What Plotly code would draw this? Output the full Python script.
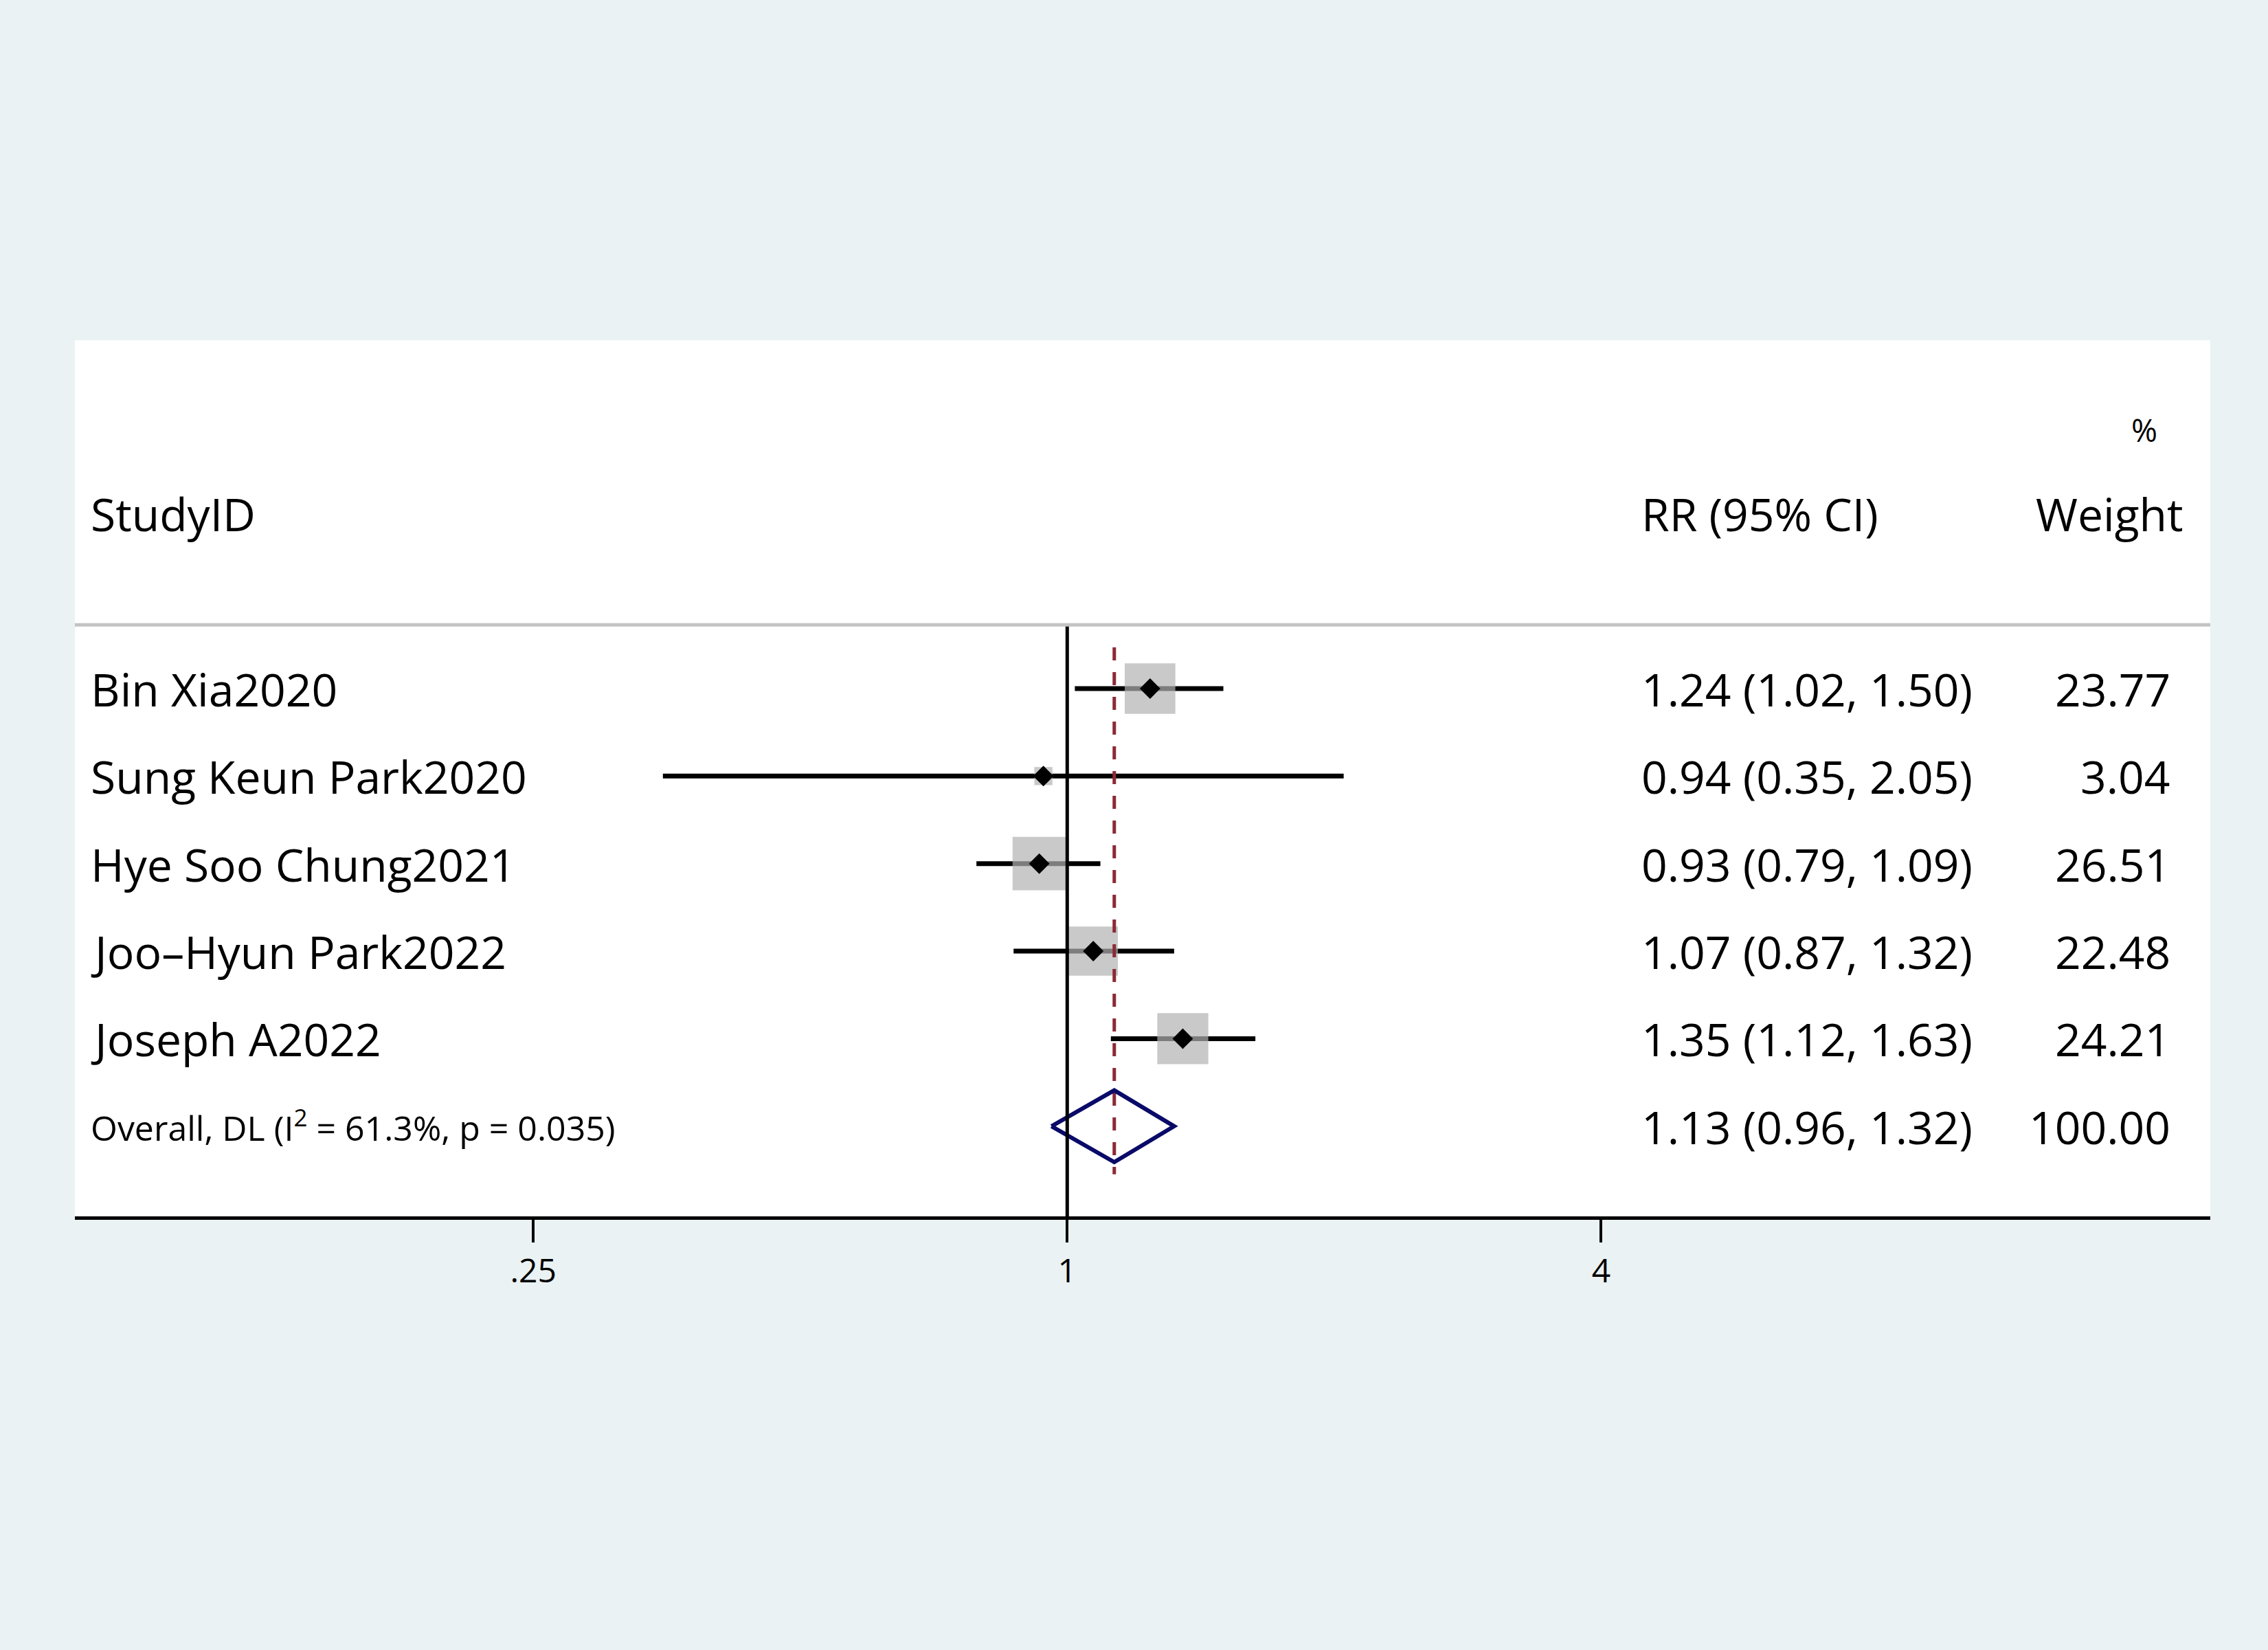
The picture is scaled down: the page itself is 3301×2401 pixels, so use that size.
import numpy as np
import plotly.graph_objects as go

# Study-level data (RR with 95% CI, % weight)
studies = ['Bin Xia2020', 'Sung Keun Park2020', 'Hye Soo Chung2021',
           'Joo\u2013Hyun Park2022', 'Joseph A2022']
rr = [1.24, 0.94, 0.93, 1.07, 1.35]
lo = [1.02, 0.35, 0.79, 0.87, 1.12]
hi = [1.50, 2.05, 1.09, 1.32, 1.63]
weight = [23.77, 3.04, 26.51, 22.48, 24.21]

# Pooled estimate (DerSimonian-Laird)
overall_label = 'Overall, DL (I<sup>2</sup> = 61.3%, p = 0.035)'
overall_rr = 1.13
overall_lo = 0.96
overall_hi = 1.32
overall_weight = 100.00

tick_vals = [0.25, 1, 4]
tick_text = ['.25', '1', '4']

FONT = 'Open Sans'
BG = 'rgb(234,242,243)'

n = len(studies)
rows = list(range(n))
overall_row = n

fig = go.Figure()

# Confidence interval lines
ci_x, ci_y = [], []
for i in rows:
    ci_x += [lo[i], hi[i], None]
    ci_y += [i, i, None]
fig.add_trace(go.Scatter(x=ci_x, y=ci_y, mode='lines',
                         line=dict(color='black', width=7),
                         hoverinfo='skip', showlegend=False))

# Weight boxes (area proportional to weight)
box_size = [15.1 * np.sqrt(w) for w in weight]
fig.add_trace(go.Scatter(x=rr, y=rows, mode='markers',
                         marker=dict(symbol='square', size=box_size,
                                     color='rgb(178,178,178)',
                                     line=dict(width=0)),
                         hoverinfo='skip', showlegend=False))

# Point estimates
fig.add_trace(go.Scatter(x=rr, y=rows, mode='markers',
                         marker=dict(symbol='diamond', size=23, color='black',
                                     line=dict(width=0)),
                         text=studies, showlegend=False))

# Overall effect line (dashed)
fig.add_trace(go.Scatter(x=[overall_rr, overall_rr], y=[-0.47, overall_row + 0.55],
                         mode='lines',
                         line=dict(color='rgb(140,42,55)', width=5, dash='19px,17px'),
                         hoverinfo='skip', showlegend=False))

# Overall diamond
h = 0.41
fig.add_trace(go.Scatter(
    x=[overall_lo, overall_rr, overall_hi, overall_rr, overall_lo],
    y=[overall_row, overall_row - h, overall_row, overall_row + h, overall_row],
    mode='lines', line=dict(color='rgb(10,10,105)', width=6),
    hoverinfo='skip', showlegend=False))

# Null line at RR = 1
fig.add_shape(type='line', xref='x', yref='y', x0=1, x1=1, y0=-0.727, y1=6.1,
              line=dict(color='black', width=5), layer='above')

# Header separator
fig.add_shape(type='line', xref='paper', yref='y', x0=0, x1=1, y0=-0.727, y1=-0.727,
              line=dict(color='rgb(195,195,195)', width=5))

# Text columns
big = dict(family=FONT, size=66, color='black')
small = dict(family=FONT, size=50, color='black')
pct = dict(family=FONT, size=46, color='black')
ann = []
ann.append(dict(x=0.0068, y=-2.0, text='StudyID', xanchor='left', font=big))
ann.append(dict(x=0.733, y=-2.0, text='RR (95% CI)', xanchor='left', font=big))
ann.append(dict(x=0.988, y=-2.0, text='Weight', xanchor='right', font=big))
ann.append(dict(x=0.976, y=-2.96, text='%', xanchor='right', font=pct))
for i in rows:
    ann.append(dict(x=0.0068, y=i, text=studies[i], xanchor='left', font=big))
    ann.append(dict(x=0.733, y=i, text=f'{rr[i]:.2f} ({lo[i]:.2f}, {hi[i]:.2f})',
                    xanchor='left', font=big))
    ann.append(dict(x=0.982, y=i, text=f'{weight[i]:.2f}', xanchor='right', font=big))
ann.append(dict(x=0.0068, y=overall_row, text=overall_label, xanchor='left', font=small))
ann.append(dict(x=0.733, y=overall_row,
                text=f'{overall_rr:.2f} ({overall_lo:.2f}, {overall_hi:.2f})',
                xanchor='left', font=big))
ann.append(dict(x=0.982, y=overall_row, text=f'{overall_weight:.2f}',
                xanchor='right', font=big))
for a in ann:
    a.update(xref='paper', yref='y', yanchor='middle', showarrow=False)

fig.update_layout(
    width=3293, height=2393,
    margin=dict(l=101, r=84, t=487, b=631),
    paper_bgcolor=BG, plot_bgcolor='white',
    annotations=ann,
    xaxis=dict(type='log', range=[-1.119, 1.289],
               tickvals=tick_vals, ticktext=tick_text,
               ticks='outside', ticklen=33, tickwidth=4, tickcolor='black',
               tickfont=dict(family=FONT, size=48, color='black'),
               showline=True, linecolor='black', linewidth=5,
               showgrid=False, zeroline=False, fixedrange=True),
    yaxis=dict(range=[6.03, -3.98], showticklabels=False, showgrid=False,
               zeroline=False, showline=False, ticks=''),
)

# page margin around the figure gets the same background
fig.write_html('out.html', post_script=f"document.body.style.background='{BG}';")
